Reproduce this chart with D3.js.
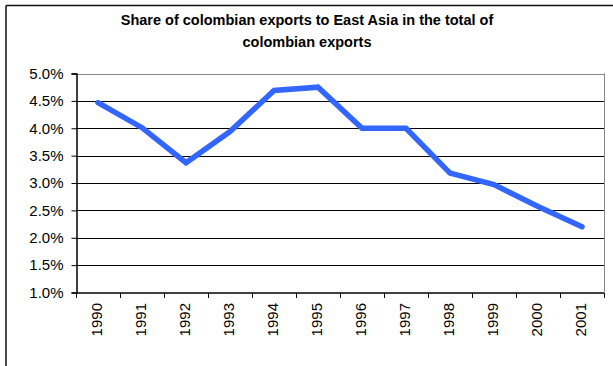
<!DOCTYPE html>
<html>
<head>
<meta charset="utf-8">
<script src="https://cdn.jsdelivr.net/npm/d3@7"></script>
<style>
  html, body { margin: 0; padding: 0; background: #fff; }
  svg { display: block; font-family: "Liberation Sans", Arial, sans-serif; }
</style>
</head>
<body>
<svg id="chart" width="613" height="366"></svg>
<script>
// Share of Colombian exports going to East Asia, by year (percent)
const years = ["1990","1991","1992","1993","1994","1995","1996","1997","1998","1999","2000","2001"];
const shareValues = [4.47, 4.01, 3.37, 3.94, 4.69, 4.75, 4.0, 4.0, 3.18, 2.97, 2.57, 2.2];
const yTickValues = [1.0, 1.5, 2.0, 2.5, 3.0, 3.5, 4.0, 4.5, 5.0];
const titleLines = ["Share of colombian exports to East Asia in the total of", "colombian exports"];

const svg = d3.select("#chart");
const plot = { left: 76, right: 604, top: 73.5, bottom: 292.5 };

// outer frame (top and left edges)
svg.append("path")
  .attr("d", `M6,5.5 H613 M6,5.5 V366`)
  .attr("fill", "none").attr("stroke", "#111").attr("stroke-width", 1.5);

// title
svg.append("g").selectAll("text").data(titleLines).join("text")
  .attr("x", 307).attr("y", (d, i) => 25 + i * 22)
  .attr("text-anchor", "middle")
  .attr("font-size", 14.5).attr("font-weight", "bold").attr("fill", "#000")
  .text(d => d);

const x = d3.scaleBand().domain(years).range([plot.left, plot.right]);
const y = d3.scaleLinear().domain([1.0, 5.0]).range([plot.bottom, plot.top]);

// horizontal gridlines
svg.append("g").selectAll("line").data(yTickValues.filter(v => v > 1.0)).join("line")
  .attr("x1", plot.left).attr("x2", plot.right)
  .attr("y1", d => Math.round(y(d)) + 0.5).attr("y2", d => Math.round(y(d)) + 0.5)
  .attr("stroke", d => d === 5.0 ? "#888" : "#000").attr("stroke-width", 1);

// right edge of plot area
svg.append("line")
  .attr("x1", plot.right + 0.5).attr("x2", plot.right + 0.5)
  .attr("y1", plot.top).attr("y2", plot.bottom)
  .attr("stroke", "#888").attr("stroke-width", 1);

// y axis
const yAxis = d3.axisLeft(y).tickValues(yTickValues)
  .tickFormat(d => d.toFixed(1) + "%").tickSize(5).tickPadding(8);
const gy = svg.append("g").attr("transform", `translate(${plot.left + 0.5},0)`).call(yAxis);
gy.select(".domain").attr("stroke", "#000").attr("stroke-width", 1.5);
gy.selectAll(".tick line").attr("stroke", "#000");
gy.selectAll(".tick text").attr("font-size", 15).attr("fill", "#000")
  .attr("font-family", "Liberation Sans, Arial, sans-serif");

// x axis: ticks at band boundaries, labels rotated
const gx = svg.append("g").attr("transform", `translate(0,${plot.bottom + 0.5})`);
gx.append("line").attr("x1", plot.left).attr("x2", plot.right)
  .attr("stroke", "#000").attr("stroke-width", 1.5);
const boundaries = years.map(d => x(d)).concat([plot.right]);
gx.selectAll("line.tk").data(boundaries).join("line").attr("class", "tk")
  .attr("x1", d => Math.round(d) + 0.5).attr("x2", d => Math.round(d) + 0.5)
  .attr("y1", 0).attr("y2", 5).attr("stroke", "#000");
gx.selectAll("text").data(years).join("text")
  .attr("transform", d => `translate(${x(d) + x.bandwidth() / 2 + 4},${10}) rotate(-90)`)
  .attr("text-anchor", "end")
  .attr("font-size", 15).attr("fill", "#000")
  .text(d => d);

// the data line
const line = d3.line()
  .x((d, i) => x(years[i]) + x.bandwidth() / 2)
  .y(d => y(d));
svg.append("path").datum(shareValues)
  .attr("d", line)
  .attr("fill", "none")
  .attr("stroke", "#3366FF")
  .attr("stroke-width", 5.5)
  .attr("stroke-linejoin", "miter")
  .attr("stroke-linecap", "round");
</script>
</body>
</html>
